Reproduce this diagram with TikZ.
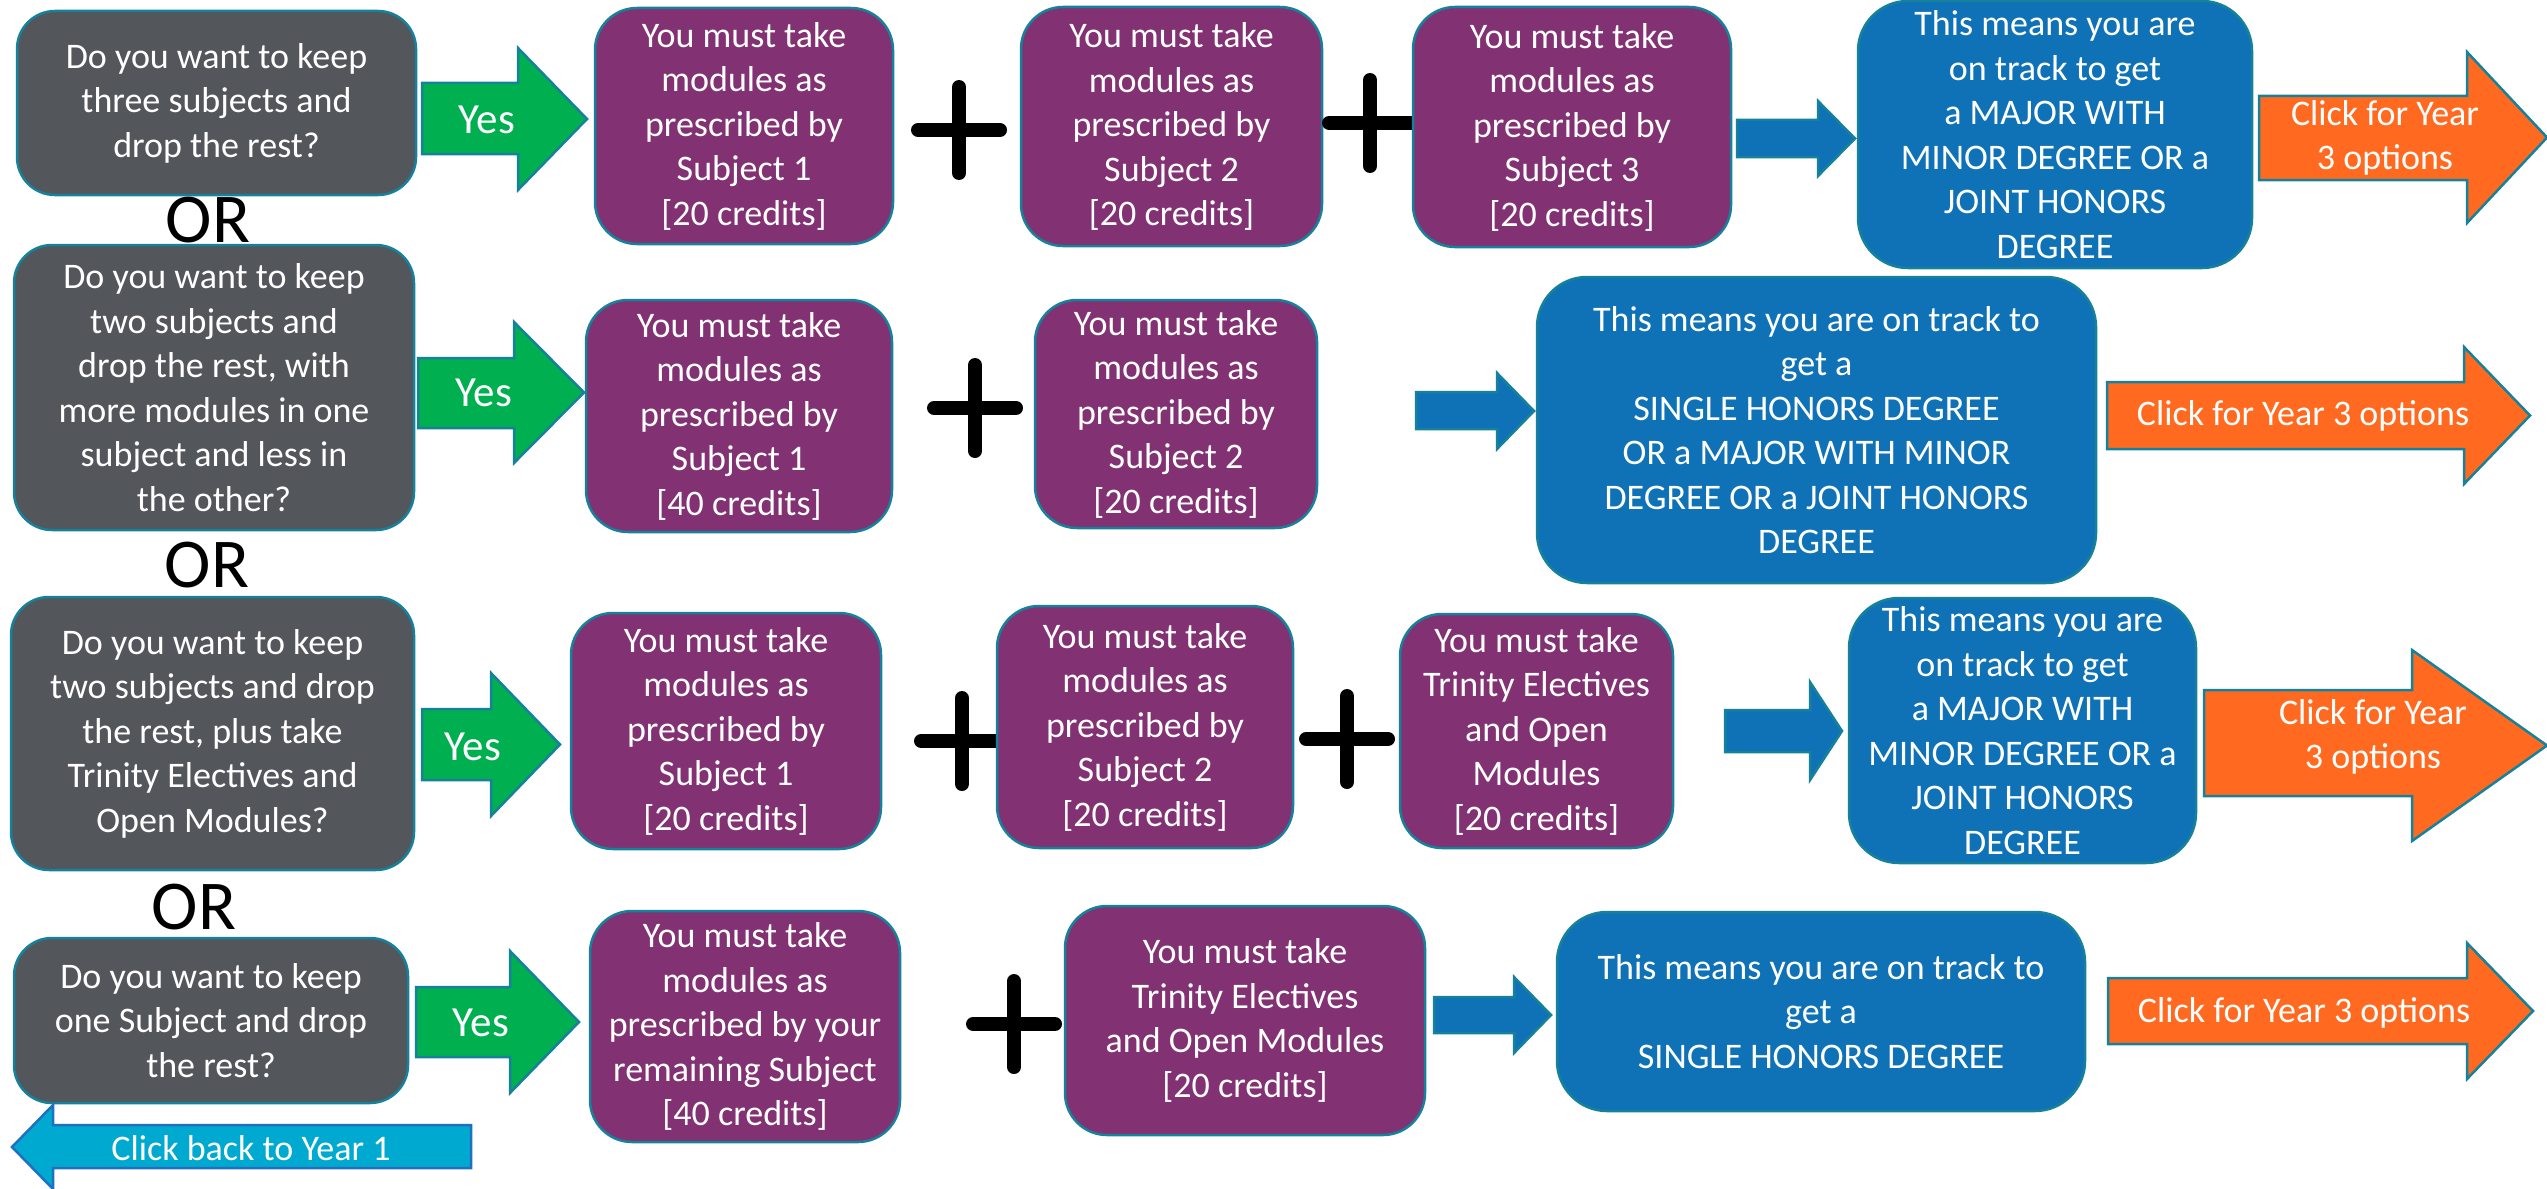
\documentclass[tikz,border=0pt]{standalone}
\usepackage{fontspec}
\setmainfont{Carlito}
\definecolor{qgrey}{HTML}{53565B}
\definecolor{purp}{HTML}{823173}
\definecolor{blu}{HTML}{0F72B7}
\definecolor{grn}{HTML}{00AF50}
\definecolor{orng}{HTML}{FF6A20}
\definecolor{cyn}{HTML}{00A9CF}
\definecolor{bordc}{HTML}{16819A}
\definecolor{backbord}{HTML}{2070C0}
\newcommand{\rarr}[8]{\path[#1] (#2,#5) -- (#3,#5) -- (#3,#7) -- (#4,{(#7+#8)/2}) -- (#3,#8) -- (#3,#6) -- (#2,#6) -- cycle;}
\newcommand{\plussign}[2]{\draw[plusst] ({#1-41},#2) -- ({#1+41},#2) (#1,{#2-43}) -- (#1,{#2+43});}
\begin{document}
\begin{tikzpicture}[x=1pt,y=-1pt,
  box/.style={rounded corners=42pt, draw=bordc, line width=2.5pt, text=white, align=center, inner sep=0pt,
    font=\fontsize{36}{44.5}\selectfont},
  qbox/.style={box, fill=qgrey, rounded corners=38pt},
  pbox/.style={box, fill=purp},
  bbox/.style={box, fill=blu, rounded corners=50pt},
  lbl/.style={text=white, align=center, inner sep=0pt, font=\fontsize{36}{44}\selectfont},
  yeslbl/.style={text=white, inner sep=0pt, font=\fontsize{43}{50}\selectfont},
  orlbl/.style={text=black, inner sep=0pt, font=\fontsize{70}{80}\selectfont},
  greenarr/.style={fill=grn, draw=bordc, line width=2.5pt},
  bluearr/.style={fill=blu, draw=bordc, line width=2.5pt},
  orangearr/.style={fill=orng, draw=bordc, line width=2.5pt},
  backarr/.style={fill=cyn, draw=backbord, line width=2.5pt},
  plusst/.style={draw=black, line width=14pt, line cap=round},
]
\useasboundingbox (0,0) rectangle (2547,1188);

% ---------------- Row 1 ----------------
\node[qbox, minimum width=399pt, minimum height=184pt] (q1) at (216.5,103)
  {Do you want to keep\\three subjects and\\drop the rest?};
\rarr{greenarr}{422}{518}{587}{83}{154}{48}{190}
\node[yeslbl] (yes1) at (487,120) {Yes};
\node[pbox, minimum width=298pt, minimum height=236pt] (p11) at (744,126)
  {You must take\\modules as\\prescribed by\\Subject 1\\{[20 credits]}};
\plussign{959}{130}
\node[pbox, minimum width=301pt, minimum height=239pt] (p12) at (1171.5,126.5)
  {You must take\\modules as\\prescribed by\\Subject 2\\{[20 credits]}};
\plussign{1370}{123}
\node[pbox, minimum width=318pt, minimum height=240pt] (p13) at (1572,127)
  {You must take\\modules as\\prescribed by\\Subject 3\\{[20 credits]}};
\rarr{bluearr}{1737}{1818}{1855}{120}{157}{101}{176}
\node[bbox, minimum width=394pt, minimum height=267pt] (b1) at (2055,134.5)
  {This means you are\\on track to get\\a MAJOR WITH\\MINOR DEGREE OR a\\JOINT HONORS\\DEGREE};
\rarr{orangearr}{2259}{2467}{2547}{96}{180}{52}{223}
\node[lbl] (o1) at (2385,138) {Click for Year\\3 options};
\node[orlbl] (or1) at (208,220) {OR};

% ---------------- Row 2 ----------------
\node[qbox, minimum width=400pt, minimum height=285pt] (q2) at (214,387.5)
  {Do you want to keep\\two subjects and\\drop the rest, with\\more modules in one\\subject and less in\\the other?};
\rarr{greenarr}{418}{514}{584}{358}{428}{322}{463}
\node[yeslbl] (yes2) at (484,393) {Yes};
\node[pbox, minimum width=306pt, minimum height=232pt] (p21) at (739,416)
  {You must take\\modules as\\prescribed by\\Subject 1\\{[40 credits]}};
\plussign{975}{408}
\node[pbox, minimum width=282pt, minimum height=228pt] (p22) at (1176,414)
  {You must take\\modules as\\prescribed by\\Subject 2\\{[20 credits]}};
\rarr{bluearr}{1416}{1497}{1534}{392}{429}{373}{449}
\node[bbox, minimum width=559pt, minimum height=306pt] (b2) at (1816.5,430)
  {This means you are on track to\\get a\\SINGLE HONORS DEGREE\\OR a MAJOR WITH MINOR\\DEGREE OR a JOINT HONORS\\DEGREE};
\rarr{orangearr}{2107}{2464}{2530}{382}{449}{347}{484}
\node[lbl] (o2) at (2303,416) {Click for Year 3 options};
\node[orlbl] (or2) at (207,565) {OR};

% ---------------- Row 3 ----------------
\node[qbox, minimum width=403pt, minimum height=273pt] (q3) at (212.5,733.5)
  {Do you want to keep\\two subjects and drop\\the rest, plus take\\Trinity Electives and\\Open Modules?};
\rarr{greenarr}{422}{491}{560}{709}{780}{673}{816}
\node[yeslbl] (yes3) at (473,747) {Yes};
\node[pbox, minimum width=310pt, minimum height=236pt] (p31) at (726,731)
  {You must take\\modules as\\prescribed by\\Subject 1\\{[20 credits]}};
\plussign{962}{741}
\node[pbox, minimum width=296pt, minimum height=242pt] (p32) at (1145,727)
  {You must take\\modules as\\prescribed by\\Subject 2\\{[20 credits]}};
\plussign{1347}{739}
\node[pbox, minimum width=273pt, minimum height=234pt] (p33) at (1536.5,731)
  {You must take\\Trinity Electives\\and Open\\Modules\\{[20 credits]}};
\rarr{bluearr}{1725}{1810}{1842}{710}{752}{682}{780}
\node[bbox, minimum width=347pt, minimum height=265pt] (b3) at (2022.5,730.5)
  {This means you are\\on track to get\\a MAJOR WITH\\MINOR DEGREE OR a\\JOINT HONORS\\DEGREE};
\rarr{orangearr}{2204}{2412}{2547}{690}{796}{650}{841}
\node[lbl] (o3) at (2373,737) {Click for Year\\3 options};
\node[orlbl] (or3) at (194,907) {OR};

% ---------------- Row 4 ----------------
\node[qbox, minimum width=394pt, minimum height=165pt] (q4) at (211,1020.5)
  {Do you want to keep\\one Subject and drop\\the rest?};
\rarr{greenarr}{416}{510}{579}{987}{1057}{951}{1093}
\node[yeslbl] (yes4) at (481,1023) {Yes};
\node[pbox, minimum width=310pt, minimum height=231pt] (p41) at (745,1026.5)
  {You must take\\modules as\\prescribed by your\\remaining Subject\\{[40 credits]}};
\plussign{1014}{1024}
\node[pbox, minimum width=360pt, minimum height=229pt] (p42) at (1245,1020.5)
  {You must take\\Trinity Electives\\and Open Modules\\{[20 credits]}};
\rarr{bluearr}{1434}{1514}{1551}{997}{1033}{977}{1053}
\node[bbox, minimum width=528pt, minimum height=199pt] (b4) at (1821,1011.5)
  {This means you are on track to\\get a\\SINGLE HONORS DEGREE};
\rarr{orangearr}{2108}{2467}{2533}{978}{1044}{943}{1079}
\node[lbl] (o4) at (2304,1013) {Click for Year 3 options};

\rarr{backarr}{471}{53}{12}{1125}{1168}{1105}{1189}
\node[lbl] (back) at (251,1148) {Click back to Year 1};
\end{tikzpicture}
\end{document}
